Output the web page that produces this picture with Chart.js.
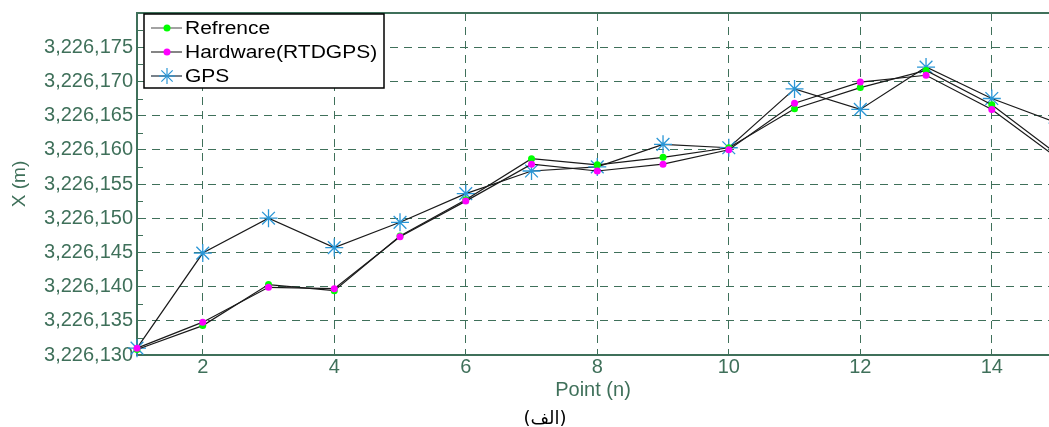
<!DOCTYPE html>
<html>
<head>
<meta charset="utf-8">
<script src="https://cdn.jsdelivr.net/npm/chart.js@4/dist/chart.umd.min.js"></script>
<style>
  html, body { margin: 0; padding: 0; background: #fff; }
  #wrap { position: relative; width: 1049px; height: 427px; overflow: hidden; }
  #caption { position: absolute; left: 545px; top: 407px; transform: translateX(-50%);
             font: 18px "DejaVu Sans", sans-serif; color: #000; white-space: nowrap; }
</style>
</head>
<body>
<div id="wrap">
  <canvas id="chart" width="1049" height="427"></canvas>
  <div id="caption" dir="rtl">(الف)</div>
</div>
<script>
// point numbers along the survey line
const points = [1, 2, 3, 4, 5, 6, 7, 8, 9, 10, 11, 12, 13, 14, 15];

// X coordinate (m)
const refrence = [3226130.8, 3226134.3, 3226140.3, 3226139.4, 3226147.4, 3226152.7, 3226158.7, 3226157.8,
                  3226158.9, 3226160.3, 3226166.0, 3226169.1, 3226171.6, 3226166.6, 3226159.3];
const hardware = [3226131.0, 3226134.8, 3226139.9, 3226139.7, 3226147.3, 3226152.5, 3226157.9, 3226156.9,
                  3226157.9, 3226160.0, 3226166.8, 3226169.9, 3226170.9, 3226165.9, 3226158.8];
const gps      = [3226131.0, 3226144.9, 3226150.0, 3226145.7, 3226149.4, 3226153.6, 3226156.9, 3226157.5,
                  3226160.8, 3226160.3, 3226168.9, 3226165.9, 3226172.1, 3226167.5, 3226163.9];

// axis ticks
const xTicks = [2, 4, 6, 8, 10, 12, 14];
const yTicks = [3226130, 3226135, 3226140, 3226145, 3226150, 3226155, 3226160, 3226165, 3226170, 3226175];
const yMinorTicks = [3226132.5, 3226137.5, 3226142.5, 3226147.5, 3226152.5, 3226157.5, 3226162.5,
                     3226167.5, 3226172.5, 3226177.5];

const axisColor = '#3f705a';
const toXY = arr => points.map((p, i) => ({ x: p, y: arr[i] }));

// frame top line, minor ticks and the boxed legend inside the plot
const framePlugin = {
    id: 'frame',
    afterDraw(chart) {
        const { ctx, chartArea: a, scales: { y } } = chart;
        ctx.save();
        ctx.strokeStyle = axisColor;
        ctx.lineWidth = 2;
        ctx.beginPath();
        ctx.moveTo(a.left, a.top);
        ctx.lineTo(a.right, a.top);
        ctx.stroke();

        ctx.lineWidth = 1;
        yMinorTicks.forEach(v => {
            const py = Math.round(y.getPixelForValue(v)) + 0.5;
            ctx.beginPath();
            ctx.moveTo(a.left, py);
            ctx.lineTo(a.left + 6, py);
            ctx.stroke();
        });

        // legend box
        const bx = a.left + 7, by = a.top + 1, bw = 240, bh = 74;
        ctx.fillStyle = '#fff';
        ctx.fillRect(bx, by, bw, bh);
        ctx.strokeStyle = '#000';
        ctx.lineWidth = 1.5;
        ctx.strokeRect(bx, by, bw, bh);

        chart.data.datasets.forEach((ds, i) => {
            const ry = by + 14 + i * 24;
            const mx = bx + 23;
            ctx.strokeStyle = ds.legendLine;
            ctx.lineWidth = 1.2;
            ctx.beginPath();
            ctx.moveTo(bx + 7, ry);
            ctx.lineTo(bx + 38, ry);
            ctx.stroke();
            if (ds.pointStyle === 'star') {
                ctx.strokeStyle = ds.pointBorderColor;
                ctx.lineWidth = 1.2;
                const r = 8;
                [0, 45, 90, 135].forEach(deg => {
                    const t = deg * Math.PI / 180;
                    ctx.beginPath();
                    ctx.moveTo(mx - r * Math.cos(t), ry - r * Math.sin(t));
                    ctx.lineTo(mx + r * Math.cos(t), ry + r * Math.sin(t));
                    ctx.stroke();
                });
            } else {
                ctx.fillStyle = ds.pointBackgroundColor;
                ctx.beginPath();
                ctx.arc(mx, ry, 3.5, 0, Math.PI * 2);
                ctx.fill();
            }
            ctx.save();
            ctx.translate(bx + 41, ry + 1);
            ctx.scale(1.2, 1);
            ctx.fillStyle = '#000';
            ctx.font = '17.5px "Liberation Sans", Arial, sans-serif';
            ctx.textBaseline = 'middle';
            ctx.fillText(ds.label, 0, 0);
            ctx.restore();
        });
        ctx.restore();
    }
};

const ctx = document.getElementById('chart').getContext('2d');
new Chart(ctx, {
    type: 'line',
    data: {
        datasets: [
            {
                label: 'Refrence',
                data: toXY(refrence),
                borderColor: '#1a1a1a',
                borderWidth: 1.2,
                pointRadius: 3.5,
                pointBackgroundColor: '#00ff00',
                pointBorderColor: '#00ff00',
                pointBorderWidth: 0,
                legendLine: '#666',
                order: 1,
                clip: false
            },
            {
                label: 'Hardware(RTDGPS)',
                data: toXY(hardware),
                borderColor: '#1a1a1a',
                borderWidth: 1.2,
                pointRadius: 3.5,
                pointBackgroundColor: '#ff00ff',
                pointBorderColor: '#ff00ff',
                pointBorderWidth: 0,
                legendLine: '#333',
                order: 0,
                clip: false
            },
            {
                label: 'GPS',
                data: toXY(gps),
                borderColor: '#1a1a1a',
                borderWidth: 1.2,
                pointStyle: 'star',
                pointRadius: 9,
                pointBorderColor: '#2a96d6',
                pointBackgroundColor: '#2a96d6',
                pointBorderWidth: 1.3,
                legendLine: '#1c2c3c',
                order: 2,
                clip: false
            }
        ]
    },
    options: {
        responsive: false,
        animation: false,
        layout: { autoPadding: false, padding: { top: 13, right: 0, bottom: 27, left: 0 } },
        plugins: {
            legend: { display: false },
            tooltip: { enabled: false }
        },
        scales: {
            x: {
                type: 'linear',
                min: 1,
                max: 14.87,
                afterBuildTicks: s => { s.ticks = xTicks.map(v => ({ value: v })); },
                afterFit: s => { s.paddingLeft = 0; s.paddingRight = 0; },
                grid: { color: axisColor, drawTicks: false, lineWidth: 1 },
                border: { color: axisColor, width: 2, dash: [8, 6] },
                ticks: {
                    color: axisColor,
                    padding: 4,
                    font: { family: '"Liberation Sans", Arial, sans-serif', size: 20, lineHeight: 0.85 },
                    callback: v => v
                },
                title: {
                    display: true,
                    text: 'Point (n)',
                    color: axisColor,
                    padding: { top: 0, bottom: 0 },
                    font: { family: '"Liberation Sans", Arial, sans-serif', size: 20, lineHeight: 1 }
                }
            },
            y: {
                type: 'linear',
                min: 3226130,
                max: 3226180,
                afterBuildTicks: s => { s.ticks = yTicks.map(v => ({ value: v })); },
                afterFit: s => { s.width = 137; s.paddingTop = 0; s.paddingBottom = 0; },
                grid: { color: axisColor, drawTicks: false, lineWidth: 1 },
                border: { color: axisColor, width: 2, dash: [8, 6] },
                ticks: {
                    color: axisColor,
                    padding: 4,
                    font: { family: '"Liberation Sans", Arial, sans-serif', size: 20 },
                    callback: v => v.toLocaleString('en-US')
                },
                title: {
                    display: true,
                    text: 'X (m)',
                    color: axisColor,
                    padding: { top: 10, bottom: 0 },
                    font: { family: '"Liberation Sans", Arial, sans-serif', size: 19, lineHeight: 1 }
                }
            }
        }
    },
    plugins: [framePlugin]
});
</script>
</body>
</html>
